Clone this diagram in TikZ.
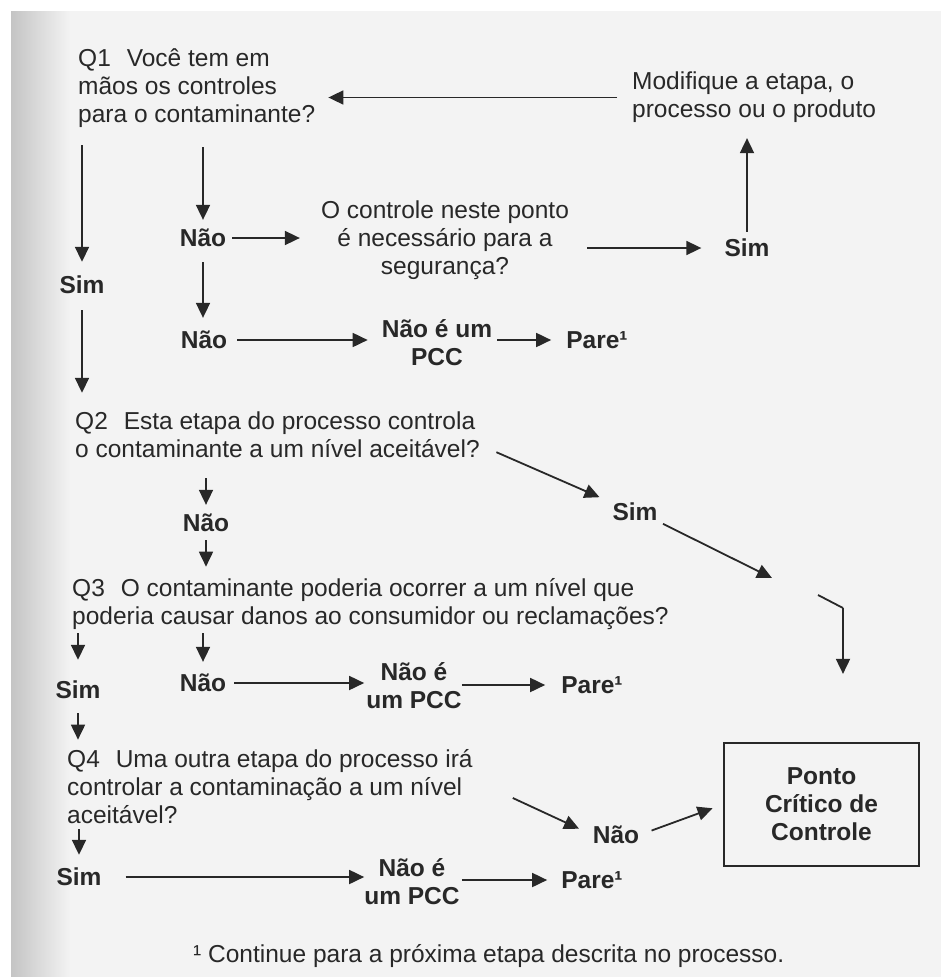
\documentclass[tikz,border=0pt]{standalone}
\usepackage{fontspec}
\setmainfont{Liberation Sans}
\usetikzlibrary{arrows.meta}
\definecolor{tinta}{RGB}{40,40,40}
\definecolor{papel}{RGB}{243,243,243}
\definecolor{sombra}{RGB}{196,196,196}
\newcommand{\qesp}{\hspace{0.65em}}
\tikzset{
  texto/.style={inner sep=0pt, text=tinta, font=\fontsize{24.5}{28}\selectfont},
  pergunta/.style={texto, align=left, anchor=west},
  resposta/.style={texto, font=\fontsize{24.5}{28}\selectfont\bfseries, align=center},
  caixa/.style={draw=tinta, line width=2.2pt, minimum width=195pt, minimum height=123pt},
  seta/.style={-{Triangle[length=15pt,width=14pt]}, line width=1.8pt, draw=tinta},
  linha/.style={line width=1.8pt, draw=tinta}
}

\begin{document}
\begin{tikzpicture}[x=1pt, y=-1pt]
  \useasboundingbox (0,0) rectangle (941,977);
  % papel digitalizado
  \fill[white] (0,0) rectangle (941,977);
  \fill[papel] (11,11) rectangle (941,977);
  \shade[left color=sombra, right color=papel] (11,11) rectangle (70,977);

  % perguntas
  \node[pergunta] (q1) at (78,88.5) {Q1\qesp Você tem em\\mãos os controles\\para o contaminante?};
  \node[pergunta] (modif) at (632,97.5) {Modifique a etapa, o\\processo ou o produto};
  \node[texto, align=center] (ctrl) at (445,240) {O controle neste ponto\\é necessário para a\\segurança?};
  \node[pergunta] (q2) at (75,435) {Q2\qesp Esta etapa do processo controla\\o contaminante a um nível aceitável?};
  \node[pergunta] (q3) at (72,604.5) {Q3\qesp O contaminante poderia ocorrer a um nível que\\poderia causar danos ao consumidor ou reclamações?};
  \node[pergunta] (q4) at (67,787) {Q4\qesp Uma outra etapa do processo irá\\controlar a contaminação a um nível\\aceitável?};

  % respostas
  \node[resposta] (simA) at (747,248) {Sim};
  \node[resposta] (naoA) at (203,238) {Não};
  \node[resposta] (simB) at (82,285) {Sim};
  \node[resposta] (naoB) at (204,340) {Não};
  \node[resposta] (pcc1) at (437,343) {Não é um\\PCC};
  \node[resposta] (pare1) at (597,340) {Pare¹};
  \node[resposta] (simC) at (635,512) {Sim};
  \node[resposta] (naoC) at (206,523) {Não};
  \node[resposta] (simD) at (78,690) {Sim};
  \node[resposta] (naoD) at (203,683) {Não};
  \node[resposta] (pcc2) at (414,686) {Não é\\um PCC};
  \node[resposta] (pare2) at (592,685) {Pare¹};
  \node[resposta] (naoE) at (616,835) {Não};
  \node[resposta] (simE) at (79,877) {Sim};
  \node[resposta] (pcc3) at (412,882) {Não é\\um PCC};
  \node[resposta] (pare3) at (592,880) {Pare¹};
  \node[resposta, caixa] (pcc) at (821.5,804.5) {Ponto\\Crítico de\\Controle};

  % nota de rodape
  \node[texto, anchor=west] (nota) at (193,956) {¹ Continue para a próxima etapa descrita no processo.};

  % setas
  \draw[seta, shorten <=15pt, shorten >=13pt] (modif.west) -- (modif.west -| q1.east);
  \draw[seta, shorten <=7pt, shorten >=15pt] (simA.north) -- (simA.north |- modif.south);
  \draw[seta, shorten <=18pt, shorten >=23pt] (ctrl.east |- simA) -- (simA);
  \draw[seta, shorten <=19pt, shorten >=9pt] (naoA.north |- q1.south) -- (naoA.north);
  \draw[seta, shorten <=6pt, shorten >=21pt] (naoA.east) -- (naoA.east -| ctrl.west);
  \draw[seta, shorten <=15pt, shorten >=13pt] (naoA.south) -- (naoA.south |- naoB.north);
  \draw[seta, shorten <=17pt, shorten >=14pt] (simB.north |- q1.south) -- (simB.north);
  \draw[seta, shorten <=16pt, shorten >=19pt] (simB.south) -- (simB.south |- q2.north);
  \draw[seta, shorten <=10pt, shorten >=14pt] (naoB.east) -- (naoB.east -| pcc1.west);
  \draw[seta, shorten <=5pt, shorten >=15pt] (pcc1.east |- pare1) -- (pare1);

  % Q2 -> Sim -> PCC
  \draw[seta, shorten <=18pt, shorten >=14pt] ([yshift=-10pt]q2.east) -- (simC.north west);
  \coordinate (meio) at (772,578);
  \coordinate (quebra) at (843,608);
  \draw[seta, shorten <=6pt] (simC.south east) -- (meio);
  \draw[linha] ([shift={(-25,-13)}]quebra) -- (quebra);
  \draw[seta, shorten >=68pt] (quebra) -- (quebra |- pcc.north);

  \draw[seta, shorten <=20pt, shorten >=9pt] (naoC.north |- q2.south) -- (naoC.north);
  \draw[seta, shorten <=8pt, shorten >=12pt] (naoC.south) -- (naoC.south |- q3.north);
  \draw[seta, shorten <=3pt, shorten >=21pt] (simD.north |- q3.south) -- (simD.north);
  \draw[seta, shorten <=3pt, shorten >=12pt] (naoD.north |- q3.south) -- (naoD.north);
  \draw[seta, shorten <=8pt, shorten >=2pt] (naoD.east) -- (naoD.east -| pcc2.west);
  \draw[seta, shorten >=16pt] (pcc2.east |- pare2) -- (pare2);
  \draw[seta, shorten <=14pt, shorten >=10pt] (simD.south) -- (simD.south |- q4.north);
  \draw[seta, shorten >=15pt] ([shift={(40,11)}]q4.east) -- (naoE.west);
  \draw[seta, shorten <=13pt, shorten >=11pt] (naoE.east) -- (pcc.west);
  \draw[seta, shorten <=5pt, shorten >=13pt] (simE.north |- q4.south) -- (simE.north);
  \draw[seta, shorten <=24pt] (simE.east) -- (simE.east -| pcc3.west);
  \draw[seta, shorten <=2pt, shorten >=14pt] (pcc3.east |- pare3) -- (pare3);
\end{tikzpicture}
\end{document}
